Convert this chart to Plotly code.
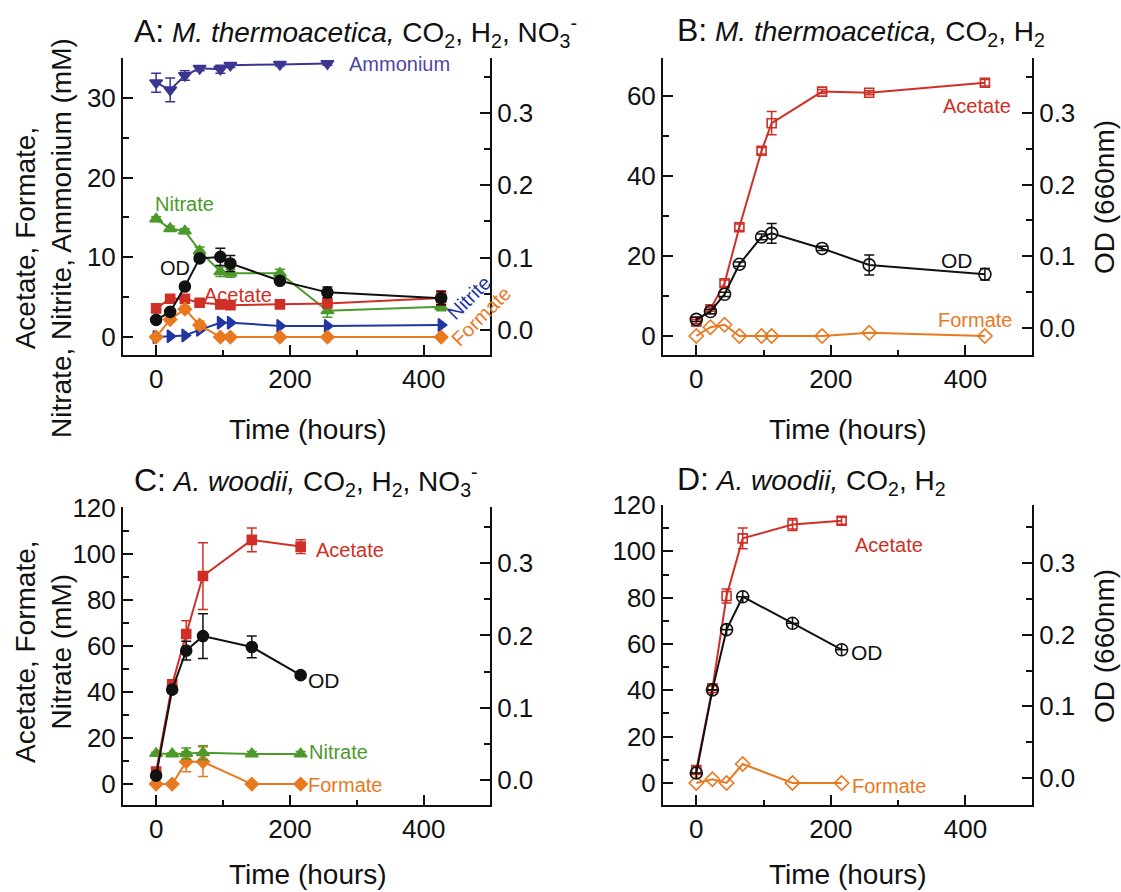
import plotly.graph_objects as go

# ---------------- data ----------------
# Panel A: M. thermoacetica, CO2, H2, NO3-
tA = [0, 21, 43, 65, 96, 111, 185, 256, 426]
A_ammonium = [31.9, 31.0, 32.8, 33.7, 33.6, 34.1, 34.2, 34.3]
A_ammonium_err = [1.2, 1.5, 0.6, 0.3, 0.5, 0.3, 0.2, 0.2]
A_nitrate = [14.8, 13.6, 13.3, 10.8, 8.2, 8.0, 8.0, 3.3, 3.8]
A_nitrate_err = [0.3, 0.3, 0.3, 0.5, 0.6, 0.5, 0.5, 0.8, 0.5]
A_od = [0.014, 0.025, 0.060, 0.099, 0.101, 0.092, 0.068, 0.052, 0.044]
A_od_err = [0.003, 0.004, 0.003, 0.004, 0.012, 0.011, 0.004, 0.0075, 0.009]
A_acetate = [3.6, 4.8, 4.8, 4.3, 4.1, 4.0, 4.1, 4.2, 4.9]
A_acetate_err = [0.3, 0.3, 0.3, 0.3, 0.3, 0.3, 0.3, 0.3, 0.9]
A_nitrite = [0.0, 0.1, 0.2, 0.9, 1.8, 1.8, 1.4, 1.4, 1.5]
A_formate = [0.0, 2.2, 3.5, 1.5, 0.0, 0.0, 0.0, 0.0, 0.0]
A_formate_err = [0.0, 0.3, 0.4, 0.5, 0.0, 0.0, 0.0, 0.0, 0.0]

# Panel B: M. thermoacetica, CO2, H2
tB = [0, 21, 42, 64, 97, 112, 187, 257, 429]
B_acetate = [3.6, 6.7, 13.2, 27.2, 46.3, 53.2, 61.1, 60.8, 63.3]
B_acetate_err = [0.5, 0.5, 0.8, 0.8, 0.8, 2.9, 0.5, 0.5, 0.8]
B_od = [0.012, 0.023, 0.047, 0.089, 0.127, 0.132, 0.111, 0.088, 0.075]
B_od_err = [0.003, 0.003, 0.003, 0.003, 0.004, 0.0137, 0.003, 0.014, 0.008]
B_formate = [0.0, 2.2, 2.8, 0.0, 0.0, 0.0, 0.0, 0.8, 0.0]

# Panel C: A. woodii, CO2, H2, NO3-
tC = [0, 24, 45, 70, 143, 216]
C_acetate = [5.4, 43.3, 65.2, 90.4, 106.1, 103.2]
C_acetate_err = [1.0, 2.0, 5.8, 14.5, 5.2, 3.0]
C_od = [0.006, 0.125, 0.179, 0.199, 0.184, 0.145]
C_od_err = [0.003, 0.005, 0.013, 0.031, 0.015, 0.004]
C_nitrate = [13.3, 13.1, 13.3, 13.6, 13.1, 13.1]
C_nitrate_err = [0.5, 0.5, 2.4, 3.0, 1.0, 1.0]
C_formate = [0.0, 0.0, 9.7, 9.7, 0.0, 0.0]
C_formate_err = [0.0, 0.0, 4.3, 6.4, 0.0, 0.0]

# Panel D: A. woodii, CO2, H2
tD = [0, 24, 45, 69, 143, 216]
D_acetate = [5.6, 40.9, 80.7, 105.6, 111.6, 113.2]
D_acetate_err = [1.5, 1.0, 3.0, 4.5, 2.6, 1.5]
D_od = [0.007, 0.123, 0.207, 0.253, 0.216, 0.179]
D_formate = [0.0, 1.6, 0.0, 8.2, 0.0, 0.0]

x_ticks = [0, 200, 400]

# ---------------- styles ----------------
RED = "#cf2f26"
ORANGE = "#e8791f"
GREEN = "#4b9a2b"
BLUE = "#1f36a3"
PURPLE = "#3c3590"
PURPLE_TXT = "#4f46a6"
BLACK = "#111111"
FONT = "Liberation Sans, Arial, sans-serif"

fig = go.Figure()


def add(x, y, xa, ya, color, symbol, size, err=None, lw=2):
    kw = {}
    if err is not None:
        kw["error_y"] = dict(type="data", array=err, color=color, thickness=1.5, width=5)
    fig.add_trace(go.Scatter(
        x=x, y=y, xaxis=xa, yaxis=ya, mode="lines+markers",
        line=dict(color=color, width=lw),
        marker=dict(symbol=symbol, size=size, color=color,
                    line=dict(color=color, width=1.6)),
        showlegend=False, **kw))


# Panel A
add(tA[:len(A_ammonium)], A_ammonium, "x", "y", PURPLE, "triangle-down", 11, A_ammonium_err)
add(tA, A_nitrate, "x", "y", GREEN, "triangle-up", 11, A_nitrate_err)
add(tA, A_acetate, "x", "y", RED, "square", 9, A_acetate_err)
add(tA, A_nitrite, "x", "y", BLUE, "triangle-right", 11)
add(tA, A_formate, "x", "y", ORANGE, "diamond", 10, A_formate_err)
add(tA, A_od, "x", "y2", BLACK, "circle", 11, A_od_err)

# Panel B
add(tB, B_formate, "x2", "y3", ORANGE, "diamond-open", 11)
add(tB, B_acetate, "x2", "y3", RED, "square-open", 9, B_acetate_err)
add(tB, B_od, "x2", "y4", BLACK, "circle-open", 12, B_od_err)

# Panel C
add(tC, C_formate, "x3", "y5", ORANGE, "diamond", 10, C_formate_err)
add(tC, C_nitrate, "x3", "y5", GREEN, "triangle-up", 11, C_nitrate_err)
add(tC, C_acetate, "x3", "y5", RED, "square", 9, C_acetate_err)
add(tC, C_od, "x3", "y6", BLACK, "circle", 11, C_od_err)

# Panel D
add(tD, D_formate, "x4", "y7", ORANGE, "diamond-open", 11)
add(tD, D_acetate, "x4", "y7", RED, "square-open", 9, D_acetate_err)
add(tD, D_od, "x4", "y8", BLACK, "circle-cross-open", 12)

W, H = 1121, 892


def px_x(p):
    return p / W


def px_y(p):
    return 1 - p / H


tickfont = dict(family=FONT, size=26, color=BLACK)
common = dict(showline=True, linecolor=BLACK, linewidth=2, showgrid=False, zeroline=False,
              ticks="inside", ticklen=10, tickwidth=2, tickcolor=BLACK, tickfont=tickfont,
              mirror=False)


def xaxis(dom, anchor):
    return dict(domain=dom, anchor=anchor, range=[-49.5, 499], tickvals=x_ticks,
                minor=dict(ticks="inside", ticklen=5, tickwidth=2, tickcolor=BLACK, dtick=100, tick0=0),
                **common)


def yleft(dom, anchor, rng, dt):
    return dict(domain=dom, anchor=anchor, range=rng, dtick=dt, tick0=0, side="left",
                minor=dict(ticks="inside", ticklen=6, tickwidth=2, tickcolor=BLACK, dtick=dt / 2, tick0=0),
                **common)


def yright(over, anchor, rng):
    return dict(overlaying=over, anchor=anchor, range=rng, dtick=0.1, tick0=0, side="right",
                tickformat=".1f",
                minor=dict(ticks="inside", ticklen=6, tickwidth=2, tickcolor=BLACK, dtick=0.05, tick0=0),
                **common)


domA_x = [px_x(123), px_x(490)]
domB_x = [px_x(663), px_x(1032)]
dom_top = [px_y(355), px_y(58)]
dom_botC = [px_y(805), px_y(507)]
dom_botD = [px_y(805), px_y(505)]

fig.update_layout(
    width=W, height=H, margin=dict(l=0, r=0, t=0, b=0),
    paper_bgcolor="white", plot_bgcolor="white", template="none",
    font=dict(family=FONT, color=BLACK),
    xaxis=xaxis(domA_x, "y"),
    yaxis=yleft(dom_top, "x", [-2.25, 35], 10),
    yaxis2=yright("y", "x", [-0.0346, 0.376]),
    xaxis2=xaxis(domB_x, "y3"),
    yaxis3=yleft(dom_top, "x2", [-4.75, 69.5], 20),
    yaxis4=yright("y3", "x2", [-0.0377, 0.3767]),
    xaxis3=xaxis(domA_x, "y5"),
    yaxis5=yleft(dom_botC, "x3", [-9.1, 120.4], 20),
    yaxis6=yright("y5", "x3", [-0.0346, 0.3776]),
    xaxis4=xaxis(domB_x, "y7"),
    yaxis7=yleft(dom_botD, "x4", [-9.5, 120], 20),
    yaxis8=yright("y7", "x4", [-0.0377, 0.381]),
)

ann = []


def label(text, x, y, xr, yr, color, size=20, angle=0, xanchor="center"):
    ann.append(dict(text=text, x=x, y=y, xref=xr, yref=yr, showarrow=False,
                    font=dict(family=FONT, size=size, color=color), textangle=angle,
                    xanchor=xanchor, yanchor="middle"))


# series labels
label("Ammonium", 286, 34.3, "x", "y", PURPLE_TXT, xanchor="left")
label("Nitrate", 42, 16.7, "x", "y", GREEN)
label("OD", 28, 8.7, "x", "y", BLACK)
label("Acetate", 123, 5.3, "x", "y", RED)
label("Nitrite", 467, 4.9, "x", "y", BLUE, angle=-45)
label("Formate", 486, 2.6, "x", "y", ORANGE, angle=-45)

label("Acetate", 417, 57.5, "x2", "y3", RED)
label("OD", 388, 19, "x2", "y3", BLACK, size=21)
label("Formate", 414, 4, "x2", "y3", ORANGE)

label("Acetate", 290, 101.7, "x3", "y5", RED)
label("OD", 251, 45.2, "x3", "y5", BLACK, size=21)
label("Nitrate", 272, 13.9, "x3", "y5", GREEN)
label("Formate", 283, -0.4, "x3", "y5", ORANGE)

label("Acetate", 286, 102.7, "x4", "y7", RED)
label("OD", 254, 56.5, "x4", "y7", BLACK, size=21)
label("Formate", 287, -1.3, "x4", "y7", ORANGE)


# panel titles
def title(letter, rest, x, y):
    ann.append(dict(text=f"<span style='font-size:32px'>{letter}:</span> {rest}",
                    x=px_x(x), y=px_y(y), xref="paper", yref="paper", showarrow=False,
                    font=dict(family=FONT, size=28, color=BLACK), xanchor="left", yanchor="middle"))


title("A", "<i>M. thermoacetica,</i> CO<sub>2</sub>, H<sub>2</sub>, NO<sub>3</sub><sup>-</sup>", 132, 32)
title("B", "<i>M. thermoacetica,</i> CO<sub>2</sub>, H<sub>2</sub>", 675, 32)
title("C", "<i>A. woodii,</i> CO<sub>2</sub>, H<sub>2</sub>, NO<sub>3</sub><sup>-</sup>", 132, 481)
title("D", "<i>A. woodii,</i> CO<sub>2</sub>, H<sub>2</sub>", 675, 481)


# axis titles
def atitle(text, x, y, angle=0):
    ann.append(dict(text=text, x=px_x(x), y=px_y(y), xref="paper", yref="paper", showarrow=False,
                    font=dict(family=FONT, size=28, color=BLACK), textangle=angle,
                    xanchor="center", yanchor="middle"))


atitle("Acetate, Formate,<br>Nitrate, Nitrite, Ammonium (mM)", 43, 238, -90)
atitle("Acetate, Formate,<br>Nitrate (mM)", 43, 652, -90)
atitle("OD (660nm)", 1104, 197, -90)
atitle("OD (660nm)", 1104, 646, -90)
atitle("Time (hours)", 308, 429)
atitle("Time (hours)", 848, 429)
atitle("Time (hours)", 308, 874)
atitle("Time (hours)", 848, 874)

fig.update_layout(annotations=ann)
fig.write_html("out.html")
